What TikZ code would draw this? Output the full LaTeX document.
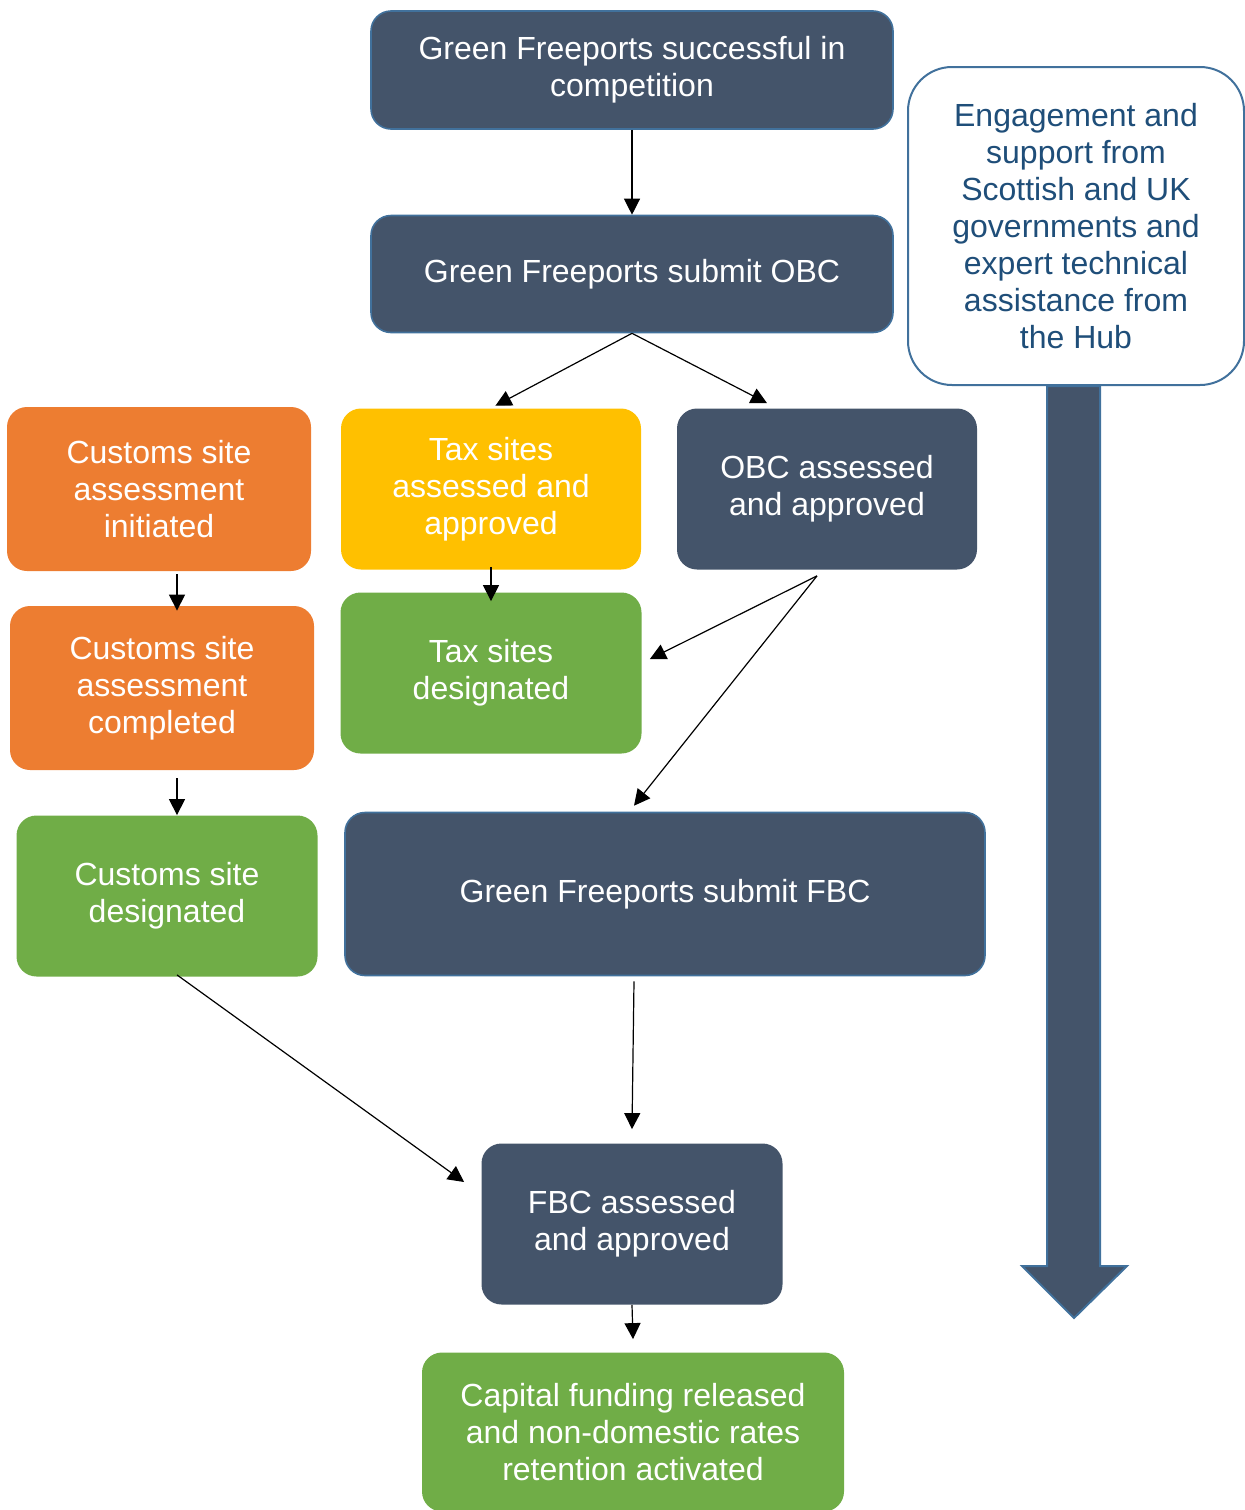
\documentclass[tikz,border=0pt]{standalone}
\usepackage{fontspec}
\setmainfont{Liberation Sans}
\usepackage{tikz}
\usetikzlibrary{arrows.meta,positioning}
\definecolor{slate}{HTML}{44546A}
\definecolor{rim}{HTML}{41719C}
\definecolor{fpgreen}{HTML}{70AD47}
\definecolor{fporange}{HTML}{ED7D31}
\definecolor{fpyellow}{HTML}{FFC000}
\definecolor{hubtext}{HTML}{1F4E79}
\tikzset{stage/.style={rounded corners=10pt, inner sep=0pt, align=center, text=white,
    font=\fontsize{16}{18.5}\selectfont},
darkbox/.style={stage, fill=slate, draw=rim, line width=0.8pt},
orangebox/.style={stage, fill=fporange},
yellowbox/.style={stage, fill=fpyellow},
greenbox/.style={stage, fill=fpgreen},
plainbox/.style={stage, fill=slate},
hubbox/.style={rounded corners=22pt, inner sep=0pt, align=center, text=hubtext, fill=white,
    draw=rim, line width=1pt, font=\fontsize{16}{18.5}\selectfont}
      }
\tikzstyle{arrow} = [line width=0.6pt,-{Triangle[length=8pt,width=8pt]}]

\begin{document}
\begin{tikzpicture}[x=0.5pt,y=-0.5pt]
\useasboundingbox (0,0) rectangle (1245,1510);
\node[darkbox, minimum width=261pt, minimum height=59pt] (win) at (632,70) {Green Freeports successful in\\competition};
\node[darkbox, minimum width=261pt, minimum height=58.5pt] (obcsub) at (632,274) {Green Freeports submit OBC};
\node[orangebox, minimum width=152pt, minimum height=82pt] (csinit) at (159,489) {Customs site\\assessment\\initiated};
\node[yellowbox, minimum width=150pt, minimum height=80.5pt] (taxok) at (491,489) {Tax sites\\assessed and\\approved};
\node[plainbox, minimum width=150pt, minimum height=80.5pt] (obcok) at (827,489) {OBC assessed\\and approved};
\node[orangebox, minimum width=152pt, minimum height=82pt] (cscomp) at (162,688) {Customs site\\assessment\\completed};
\node[greenbox, minimum width=150.5pt, minimum height=80.5pt] (taxdes) at (491,673) {Tax sites\\designated};
\node[greenbox, minimum width=150.5pt, minimum height=80.5pt] (csdes) at (167,896) {Customs site\\designated};
\node[darkbox, minimum width=320pt, minimum height=81.5pt] (fbcsub) at (665,894) {Green Freeports submit FBC};
\node[plainbox, minimum width=150.5pt, minimum height=80.5pt] (fbcok) at (632,1224) {FBC assessed\\and approved};
\node[greenbox, minimum width=211pt, minimum height=79.5pt] (cap) at (633,1432) {Capital funding released\\and non-domestic rates\\retention activated};
\node[hubbox, minimum width=168pt, minimum height=159pt] (hub) at (1076,226) {Engagement and\\support from\\Scottish and UK\\governments and\\expert technical\\assistance from\\the Hub};
\draw[fill=slate, draw=rim, line width=1pt] (1047,386) -- (1100,386) -- (1100,1266) -- (1127,1266)
    -- (1074,1318) -- (1022,1266) -- (1047,1266) -- cycle;
\draw[arrow] (win.south) -- (obcsub.north);
\draw[arrow, shorten >=2.5pt] (obcsub.south) -- (taxok.north);
\draw[arrow] (obcsub.south) -- ([xshift=-30pt,yshift=2.5pt]obcok.north);
\draw[arrow] ([xshift=9pt,yshift=-1.5pt]csinit.south) -- ([xshift=7.5pt,yshift=-2.5pt]cscomp.north);
\draw[arrow] ([yshift=1.5pt]taxok.south) -- ([yshift=-4.5pt]taxdes.north);
\draw[arrow] ([xshift=-5pt,yshift=-3pt]obcok.south) -- ([xshift=4pt,yshift=7pt]taxdes.east);
\draw[arrow] ([xshift=-5pt,yshift=-3pt]obcok.south) -- ([xshift=-15.5pt,yshift=3pt]fbcsub.north);
\draw[arrow] ([xshift=7.5pt,yshift=-4pt]cscomp.south) -- ([xshift=5pt]csdes.north);
\draw[arrow] ([xshift=5pt,yshift=1pt]csdes.south) -- ([xshift=-8.5pt,yshift=21pt]fbcok.west);
\draw[arrow] ([xshift=-15.5pt,yshift=-2.5pt]fbcsub.south) -- ([yshift=7pt]fbcok.north);
\draw[arrow] (fbcok.south) -- ([yshift=6.5pt]cap.north);
\end{tikzpicture}
\end{document}
